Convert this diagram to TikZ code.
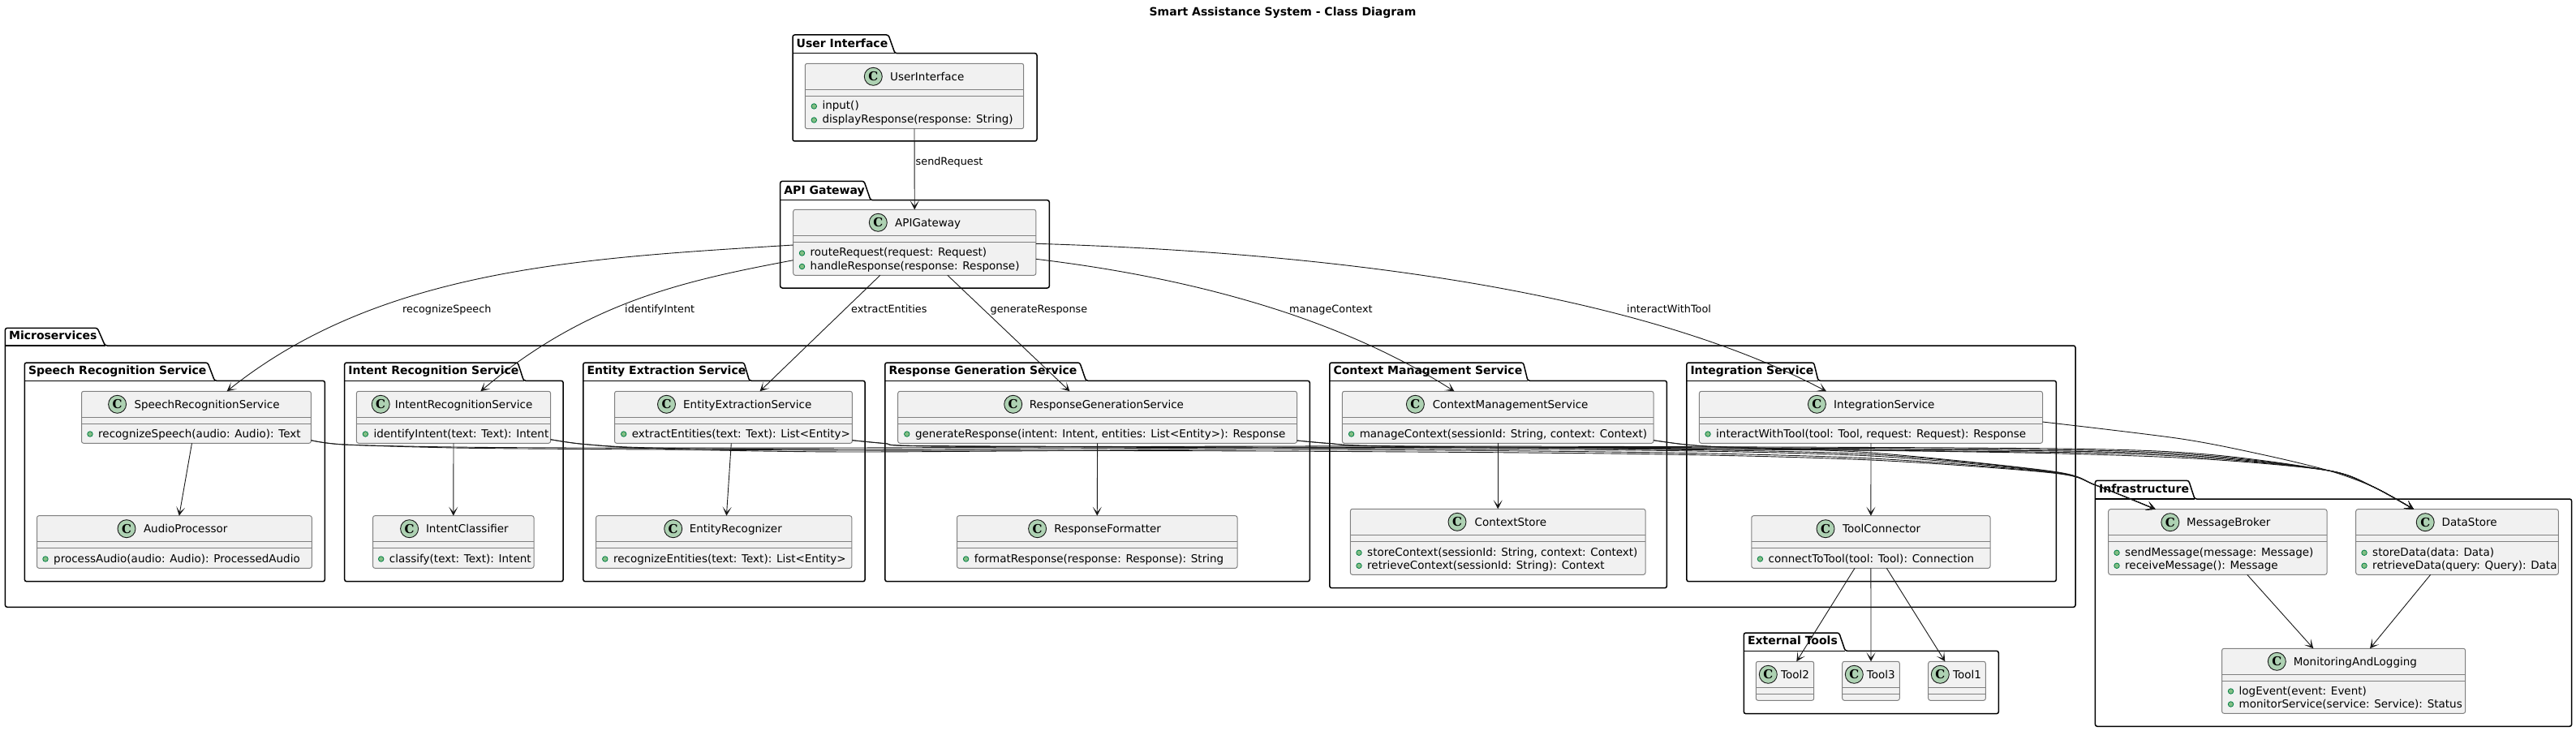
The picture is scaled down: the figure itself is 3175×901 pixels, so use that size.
\documentclass[tikz,border=0pt]{standalone}
\usepackage{fontspec}
\setmainfont{DejaVu Sans}
\newfontfamily\markfont{DejaVu Serif}
\usepackage{tikz}
\usetikzlibrary{arrows.meta}
\definecolor{boxfill}{HTML}{F1F1F1}
\definecolor{boxline}{HTML}{808080}
\definecolor{inkline}{HTML}{181818}
\definecolor{markfill}{HTML}{ADD1B2}
\definecolor{dotfill}{HTML}{84BE84}
\definecolor{dotline}{HTML}{038048}
\tikzstyle{edgeline} = [draw=inkline,line width=0.9pt,->,>={Stealth[length=11pt,width=11pt,inset=6.5pt]}]
\tikzstyle{pkgline} = [draw=black,line width=1.5pt,rounded corners=2.5pt]
\tikzstyle{pkgtitle} = [anchor=base west,inner sep=0pt,font=\fontsize{14}{16}\selectfont\bfseries]
\tikzstyle{classbox} = [draw=boxline,fill=boxfill,line width=1pt,rounded corners=2.5pt,inner sep=0pt,outer sep=0pt]
\tikzstyle{classline} = [draw=boxline,line width=1pt]
\tikzstyle{classmark} = [draw=inkline,fill=markfill,circle,line width=0.9pt,minimum size=22pt,inner sep=0pt,font=\markfont\fontsize{15}{15}\selectfont\bfseries]
\tikzstyle{classtitle} = [anchor=base west,inner sep=0pt,font=\fontsize{13.5}{16}\selectfont]
\tikzstyle{memberdot} = [draw=dotline,fill=dotfill,circle,line width=0.8pt,minimum size=6.5pt,inner sep=0pt]
\tikzstyle{edgelabel} = [anchor=base west,inner sep=0pt,font=\fontsize{12.8}{15}\selectfont]

% name, x1, y1, x2, y2, mark x, title x, title
\newcommand{\classnode}[8]{
    \node[classbox,minimum width={(#4-#2)*1pt},minimum height={(#5-#3)*1pt}] (#1) at ({(#2+#4)/2},{(#3+#5)/2}) {};
    \draw[classline] ([yshift=-32pt]#1.north west) -- ([yshift=-32pt]#1.north east);
    \draw[classline] ([yshift=-40pt]#1.north west) -- ([yshift=-40pt]#1.north east);
    \node[classmark] (#1mark) at (#6,{#3+16}) {C};
    \node[classtitle] (#1title) at (#7,{#3+21}) {#8};
}
% name, dot x, row y, text
\newcommand{\membernode}[4]{
    \node[memberdot] (#1dot) at (#2,{#3+1}) {};
    \node[classtitle] (#1) at ({#2+10},{#3+5}) {#4};
}
% name, x1, tab top, body top, x2, bottom, tab right, slant end, title
\newcommand{\pkgnode}[9]{
    \draw[pkgline] (#2,#4) -- (#2,#3) -- (#7,#3) -- (#8,#4) -- (#5,#4) -- (#5,#6) -- (#2,#6) -- cycle;
    \draw[draw=black,line width=1.5pt] (#2,#4) -- (#8,#4);
    \node[pkgtitle] (#1) at ({#2+4.5},{#4-7.5}) {#9};
}

\begin{document}
\begin{tikzpicture}[x=1pt,y=-1pt]
    \useasboundingbox (0,0) rectangle (3175,901);
    \node[inner sep=0pt,font=\fontsize{14}{16}\selectfont\bfseries] (title) at (1581,16) {Smart Assistance System - Class Diagram};

    % packages
    \pkgnode{pkgui}{977}{43}{65.7}{1278}{174}{1095}{1103}{User Interface}
    \pkgnode{pkgapi}{961.7}{223.3}{246.7}{1293.3}{355}{1065}{1073}{API Gateway}
    \pkgnode{pkgmicro}{6.4}{404.3}{426}{2558}{748.3}{120}{129.5}{Microservices}
    \pkgnode{pkgspeech}{30.3}{447}{469.3}{400.4}{716.7}{256}{264.5}{Speech Recognition Service}
    \pkgnode{pkgintent}{424.7}{447}{469.3}{694.2}{716.7}{638.2}{645.5}{Intent Recognition Service}
    \pkgnode{pkgentity}{718.8}{447}{469.3}{1066.2}{716.7}{917}{923.6}{Entity Extraction Service}
    \pkgnode{pkgresp}{1090.8}{447}{469.3}{1614.3}{716.7}{1330.9}{1338.5}{Response Generation Service}
    \pkgnode{pkgctx}{1638.8}{447}{469.3}{2054.4}{724.7}{1877.5}{1883}{Context Management Service}
    \pkgnode{pkginteg}{2078.8}{447}{469.3}{2534.4}{716.7}{2235.6}{2241}{Integration Service}
    \pkgnode{pkgtools}{2149.3}{780}{802.3}{2463.3}{879.7}{2266.7}{2274.3}{External Tools}
    \pkgnode{pkginfra}{2582.4}{592.3}{615}{3169.6}{895.3}{2697.6}{2705}{Infrastructure}

    % classes
    \classnode{ui}{992.3}{78.3}{1261.7}{158.7}{1076.3}{1097}{UserInterface}
    \membernode{uia}{1003.3}{130}{input()}
    \membernode{uib}{1003.3}{147}{displayResponse(response: String)}
    \classnode{agw}{977.7}{258.3}{1276.8}{339.3}{1082.3}{1103}{APIGateway}
    \membernode{agwa}{988.5}{311}{routeRequest(request: Request)}
    \membernode{agwb}{988.5}{327.5}{handleResponse(response: Response)}

    \classnode{speech}{100.5}{482.3}{383.4}{546.3}{144.6}{165.3}{SpeechRecognitionService}
    \membernode{speecha}{111}{534}{recognizeSpeech(audio: Audio): Text}
    \classnode{audio}{45.5}{635.7}{384.3}{700.3}{156}{176.8}{AudioProcessor}
    \membernode{audioa}{56}{688}{processAudio(audio: Audio): ProcessedAudio}
    \classnode{intent}{439.4}{482.3}{678.6}{546.3}{469.2}{486.7}{IntentRecognitionService}
    \membernode{intenta}{450.4}{534}{identifyIntent(text: Text): Intent}
    \classnode{iclass}{459.6}{635.7}{658}{700.3}{504.6}{524.8}{IntentClassifier}
    \membernode{iclassa}{469.7}{688}{classify(text: Text): Intent}
    \classnode{entity}{757.5}{482.3}{1050.4}{546.3}{821.5}{842}{EntityExtractionService}
    \membernode{entitya}{768.7}{534}{extractEntities(text: Text): List<Entity>}
    \classnode{erec}{734.6}{635.7}{1049.8}{700.3}{829.7}{849.6}{EntityRecognizer}
    \membernode{ereca}{745.8}{688}{recognizeEntities(text: Text): List<Entity>}
    \classnode{resp}{1106.7}{482.3}{1598.5}{546.3}{1248.7}{1268.7}{ResponseGenerationService}
    \membernode{respa}{1117.8}{534}{generateResponse(intent: Intent, entities: List<Entity>): Response}
    \classnode{rfmt}{1179.5}{635.7}{1525}{700.3}{1278.6}{1299.2}{ResponseFormatter}
    \membernode{rfmta}{1190.6}{688}{formatResponse(response: Response): String}
    \classnode{ctx}{1654.4}{482.3}{2038}{546.3}{1744.4}{1765.6}{ContextManagementService}
    \membernode{ctxa}{1665.6}{534}{manageContext(sessionId: String, context: Context)}
    \classnode{cstore}{1664.4}{627.3}{2028}{708.3}{1796}{1817.5}{ContextStore}
    \membernode{cstorea}{1675}{680.3}{storeContext(sessionId: String, context: Context)}
    \membernode{cstoreb}{1675}{696.3}{retrieveContext(sessionId: String): Context}
    \classnode{integ}{2094.4}{482.3}{2517.5}{546.3}{2239.4}{2260}{IntegrationService}
    \membernode{intega}{2105}{534}{interactWithTool(tool: Tool, request: Request): Response}
    \classnode{tconn}{2158.8}{635.7}{2453}{700.3}{2250}{2271}{ToolConnector}
    \membernode{tconna}{2169.4}{688}{connectToTool(tool: Tool): Connection}

    \classnode{tooltwo}{2164.3}{815.3}{2235.7}{863.3}{2179.3}{2195}{Tool2}
    \classnode{toolthree}{2270.7}{815.3}{2341.3}{863.3}{2285.3}{2300.7}{Tool3}
    \classnode{toolone}{2376.7}{815.3}{2447.3}{863.3}{2391.3}{2407}{Tool1}

    \classnode{broker}{2598.7}{627.7}{2868}{708.3}{2674.8}{2695}{MessageBroker}
    \membernode{brokera}{2609}{680.3}{sendMessage(message: Message)}
    \membernode{brokerb}{2609}{696.3}{receiveMessage(): Message}
    \classnode{dstore}{2903.7}{627.7}{3153.3}{708.3}{2989.2}{3009.5}{DataStore}
    \membernode{dstorea}{2914}{680.3}{storeData(data: Data)}
    \membernode{dstoreb}{2914}{696.3}{retrieveData(query: Query): Data}
    \classnode{monitor}{2738.6}{799.3}{3038.6}{879.3}{2806.3}{2826.6}{MonitoringAndLogging}
    \membernode{monitora}{2749.5}{851}{logEvent(event: Event)}
    \membernode{monitorb}{2749.5}{867}{monitorService(service: Service): Status}

    % from the gateway
    \draw[edgeline] (ui.south) -- (agw.north);
    \node[edgelabel] (lrequest) at (1128.5,204) {sendRequest};
    \draw[edgeline] ([yshift=37.3pt]agw.south west) .. controls (720,318) and (470,330) .. ([xshift=37.65pt]speech.north);
    \node[edgelabel] (lspeech) at (496,385) {recognizeSpeech};
    \draw[edgeline] ([yshift=18.6pt]agw.south west) .. controls (850,345) and (725,370) .. ([xshift=33.3pt]intent.north);
    \node[edgelabel] (lintent) at (770,385) {identifyIntent};
    \draw[edgeline] ([xshift=-42.45pt]agw.south) -- ([xshift=32.55pt]entity.north);
    \node[edgelabel] (lentity) at (1049,385) {extractEntities};
    \draw[edgeline] ([xshift=40.65pt]agw.south) -- ([xshift=-34.1pt]resp.north);
    \node[edgelabel] (lresp) at (1220.5,385) {generateResponse};
    \draw[edgeline] ([yshift=20pt]agw.south east) .. controls (1450,340) and (1640,385) .. ([xshift=-53.7pt]ctx.north);
    \node[edgelabel] (lctx) at (1589,385) {manageContext};
    \draw[edgeline] ([yshift=39pt]agw.south east) .. controls (1600,310) and (2000,350) .. ([xshift=-54.95pt]integ.north);
    \node[edgelabel] (linteg) at (2005,385) {interactWithTool};

    % inside the services
    \draw[edgeline] ([xshift=-5.45pt]speech.south) -- ([xshift=5.9pt]audio.north);
    \draw[edgeline] (intent.south) -- (iclass.north);
    \draw[edgeline] ([xshift=-2.65pt]entity.south) -- ([xshift=3.2pt]erec.north);
    \draw[edgeline] (resp.south) -- (rfmt.north);
    \draw[edgeline] (ctx.south) -- (cstore.north);
    \draw[edgeline] (integ.south) -- (tconn.north);
    \draw[edgeline] ([xshift=-19.9pt]tconn.south) -- ([xshift=14.3pt]tooltwo.north);
    \draw[edgeline] (tconn.south) -- (toolthree.north);
    \draw[edgeline] ([xshift=19.4pt]tconn.south) -- ([xshift=-14.7pt]toolone.north);
    \draw[edgeline] ([xshift=36.35pt]broker.south) -- ([xshift=-37.3pt]monitor.north);
    \draw[edgeline] ([xshift=-32.8pt]dstore.south) -- ([xshift=32.4pt]monitor.north);

    % services to the broker
    \draw[edgeline] plot[smooth] coordinates {([yshift=3.6pt]speech.south east) (424.7,548) (560,552) (720,553.5) (1050,555) (1560,556) (2020,559.5) (2306,567) (2530,583) (2583,598) ([xshift=-76.65pt]broker.north)};
    \draw[edgeline] plot[smooth] coordinates {([yshift=4.6pt]intent.south east) (720,547.5) (807,553) (1050,557) (1560,554) (2020,557.5) (2306,565) (2530,582.5) (2583,598) ([xshift=-76.65pt]broker.north)};
    \draw[edgeline] plot[smooth] coordinates {([yshift=3.6pt]entity.south east) (1090,546.5) (1143,550) (1560,552) (2020,555) (2306,562) (2530,582) (2583,598) ([xshift=-76.65pt]broker.north)};
    \draw[edgeline] plot[smooth] coordinates {([yshift=3.3pt]resp.south east) (1638,546.5) (1700,550) (2020,553.5) (2306,560) (2530,581.5) (2583,598) ([xshift=-76.65pt]broker.north)};
    \draw[edgeline] plot[smooth] coordinates {([yshift=3.6pt]ctx.south east) (2078,548) (2130,551.5) (2306,558) (2530,581) (2583,598) ([xshift=-76.65pt]broker.north)};

    % services to the store
    \draw[edgeline] plot[smooth] coordinates {([yshift=3.6pt]speech.south east) (424.7,548) (560,551) (720,552) (1050,552) (1560,550) (2020,550.5) (2540,553) (2720,560) (2870,580) (2925,600) ([xshift=-53.5pt]dstore.north)};
    \draw[edgeline] plot[smooth] coordinates {([yshift=4.6pt]intent.south east) (720,547.5) (807,552) (1050,554) (1560,552) (2020,551.5) (2540,554.5) (2720,561.5) (2870,580) (2925,600) ([xshift=-53.5pt]dstore.north)};
    \draw[edgeline] plot[smooth] coordinates {([yshift=3.6pt]entity.south east) (1090,546.5) (1143,549.5) (1560,551) (2020,552.5) (2540,556) (2720,563) (2870,580) (2925,600) ([xshift=-53.5pt]dstore.north)};
    \draw[edgeline] plot[smooth] coordinates {([yshift=3.3pt]resp.south east) (1638,546.5) (1700,549.5) (2020,553) (2540,557.5) (2720,564.5) (2870,580) (2925,600) ([xshift=-53.5pt]dstore.north)};
    \draw[edgeline] plot[smooth] coordinates {([yshift=3.6pt]ctx.south east) (2078,548) (2130,551) (2306,555) (2540,559) (2720,566) (2870,580) (2925,600) ([xshift=-53.5pt]dstore.north)};
    \draw[edgeline] plot[smooth] coordinates {([yshift=26.3pt]integ.south east) (2687,540.7) (2787,560) (2870,580) (2925,600) ([xshift=-53.5pt]dstore.north)};
\end{tikzpicture}
\end{document}
